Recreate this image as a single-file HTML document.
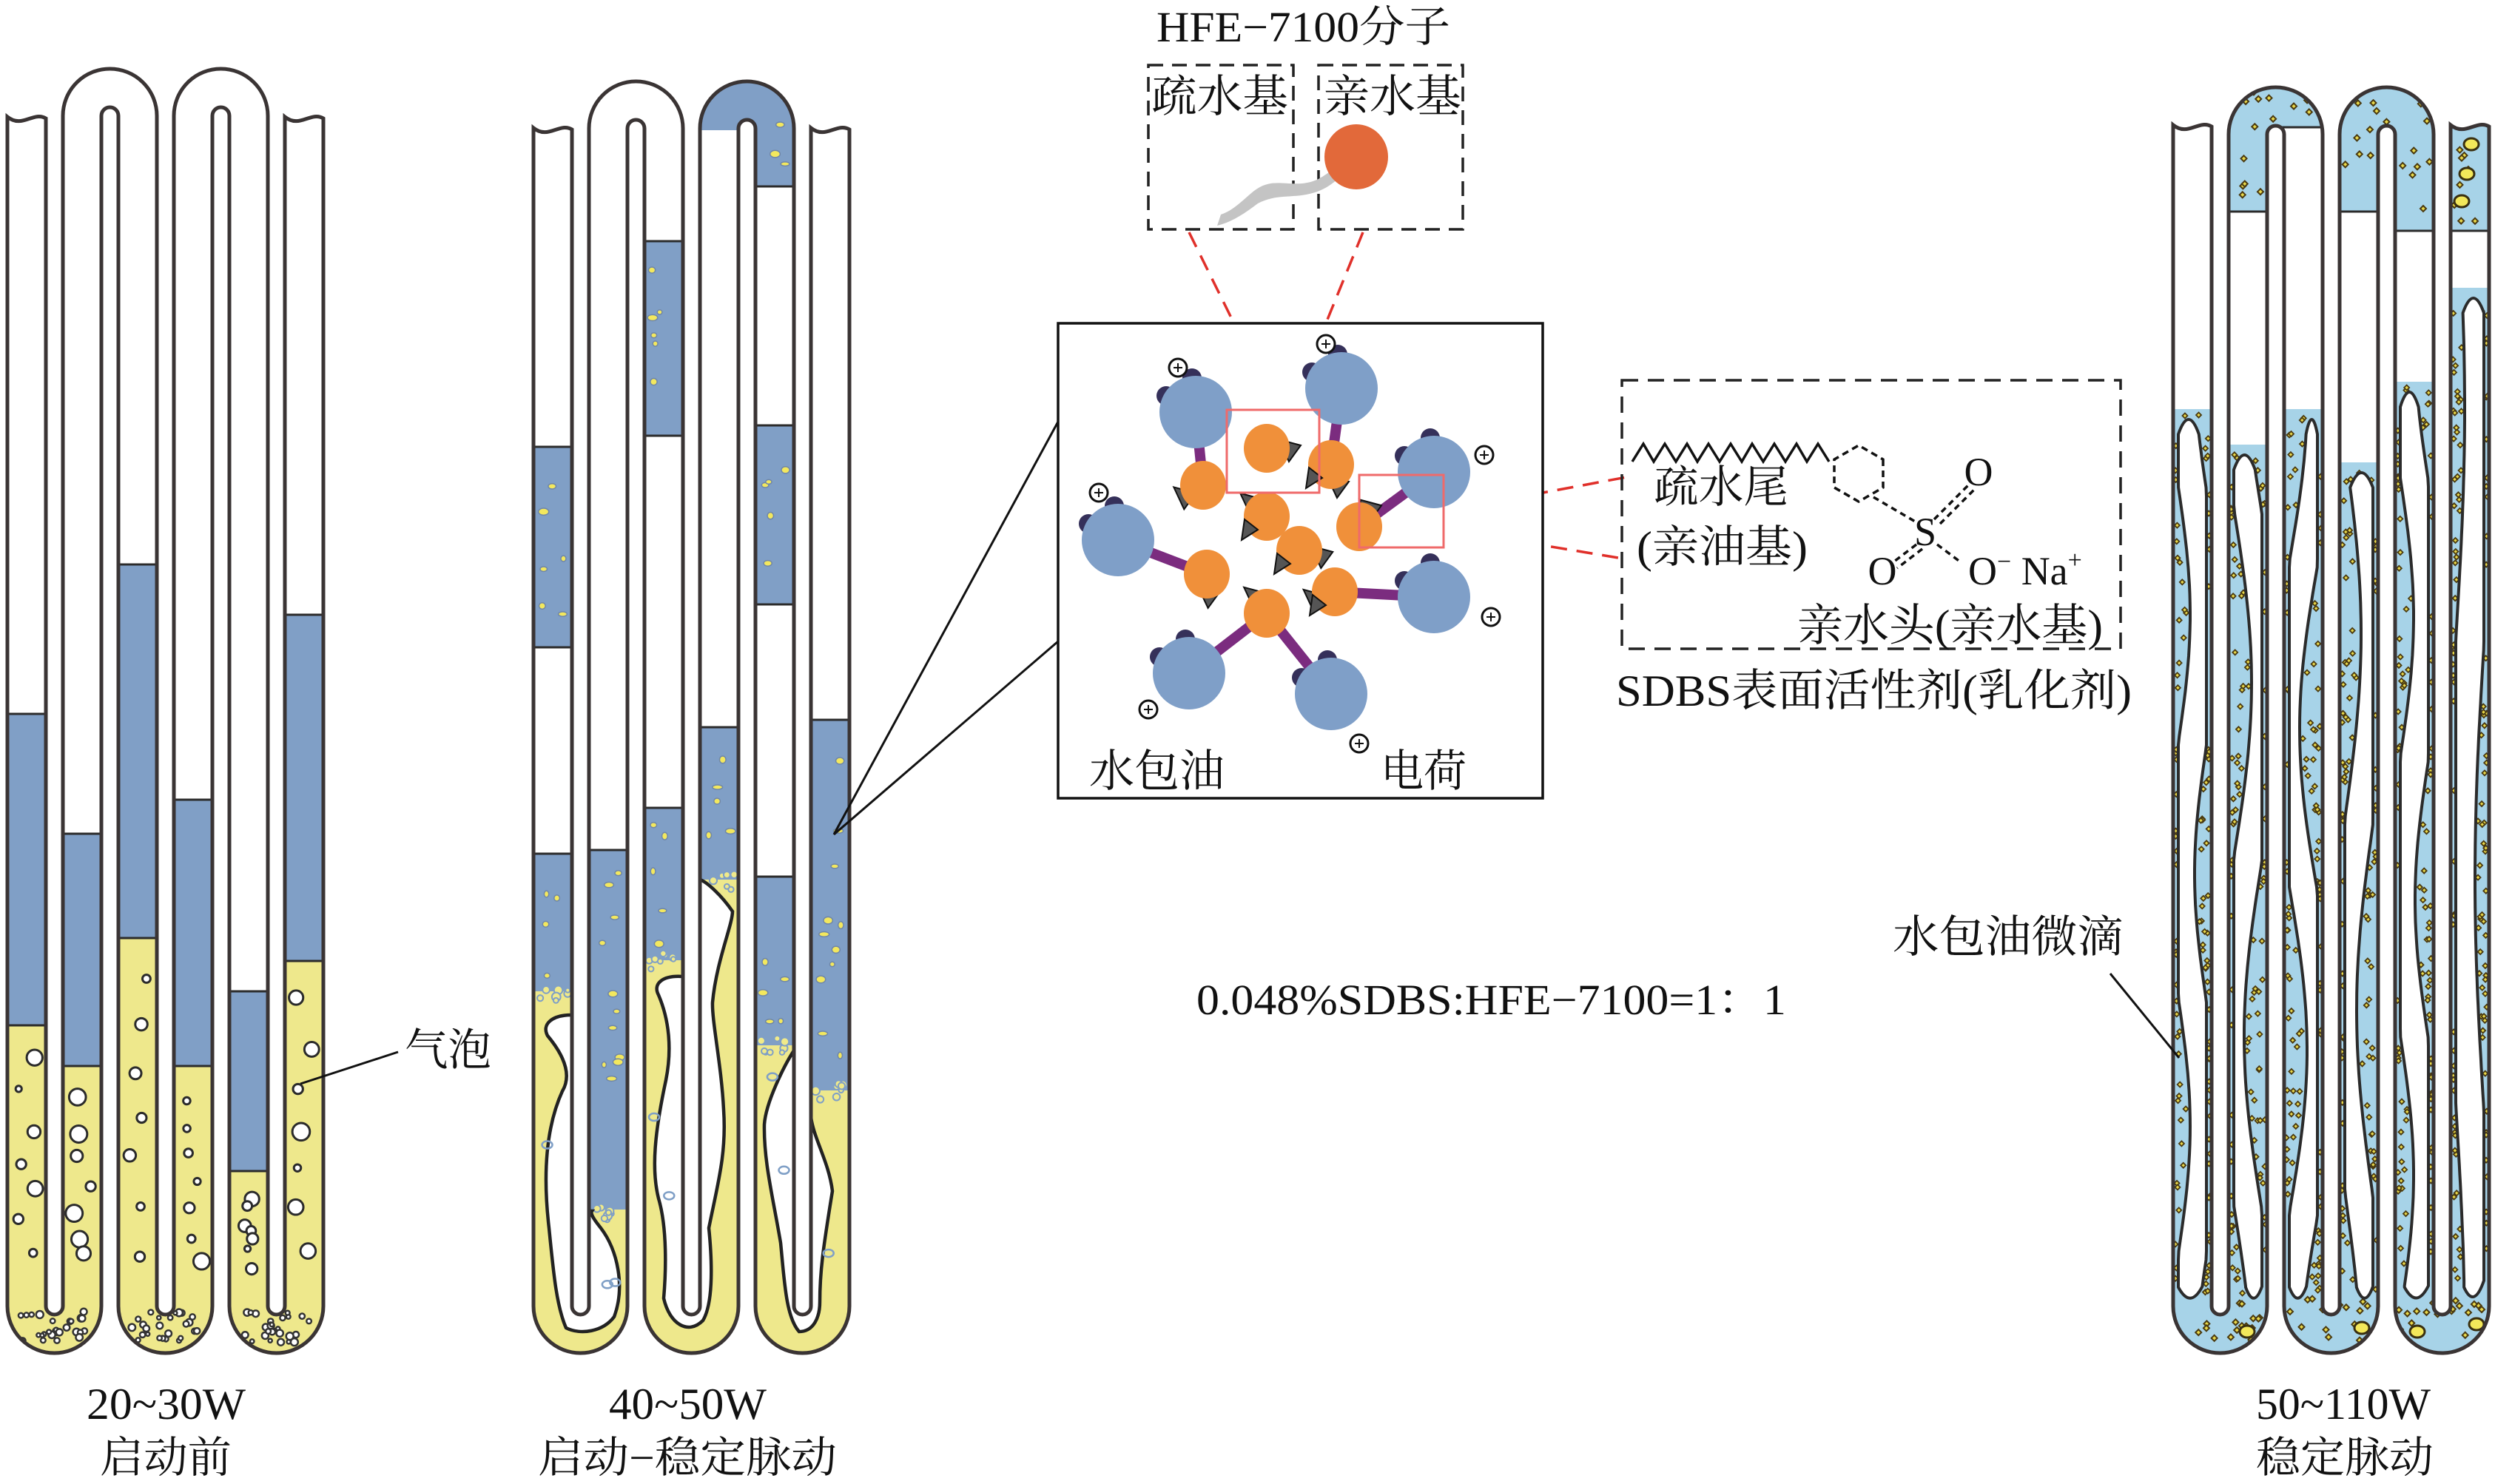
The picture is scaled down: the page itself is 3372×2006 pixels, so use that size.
<!DOCTYPE html>
<html><head><meta charset="utf-8">
<style>
html,body{margin:0;padding:0;background:#fff;overflow:hidden;width:3372px;height:2006px;}
svg{display:block;}
text{font-family:"Liberation Serif","Noto Serif CJK SC","Noto Sans CJK SC",serif;fill:#111;}
</style></head>
<body>
<svg id="root" xmlns="http://www.w3.org/2000/svg" width="3372" height="2006" viewBox="0 0 3372 2006">
<defs id="defs"></defs>
<rect width="3372" height="2006" fill="#fff"/>
<g id="panels"></g>

<line x1="1127" y1="1128" x2="1430" y2="570" stroke="#111" stroke-width="3"/>
<line x1="1127" y1="1128" x2="1430" y2="867" stroke="#111" stroke-width="3"/>

<text x="1563" y="56" font-size="58" textLength="397" lengthAdjust="spacingAndGlyphs">HFE−7100分子</text>
<rect x="1552" y="88" width="196" height="222" fill="none" stroke="#222" stroke-width="3.5" stroke-dasharray="20 12"/>
<rect x="1782" y="88" width="195" height="222" fill="none" stroke="#222" stroke-width="3.5" stroke-dasharray="20 12"/>
<text x="1556" y="151" font-size="60" textLength="185" lengthAdjust="spacingAndGlyphs">疏水基</text>
<text x="1789" y="151" font-size="60" textLength="186" lengthAdjust="spacingAndGlyphs">亲水基</text>
<path d="M1822 222 C1790 230 1790 245 1760 248 C1730 250 1715 240 1690 262 C1675 275 1665 285 1650 290 L1645 305 C1665 300 1680 290 1700 275 C1725 262 1745 268 1770 262 C1800 255 1805 240 1826 232 Z" fill="#c4c4c4"/>
<ellipse cx="1833" cy="212" rx="43" ry="44" fill="#e2693a"/>

<g stroke="#e0302a" stroke-width="3.5" stroke-dasharray="22 13" fill="none">
<line x1="1607" y1="314" x2="1727" y2="557"/>
<line x1="1842" y1="314" x2="1750" y2="540"/>
<line x1="1967" y1="688" x2="2198" y2="645"/>
<line x1="1958" y1="716" x2="2193" y2="755"/>
</g>
<path d="M1716 548 L1727 562 L1736 546" fill="none" stroke="#e0302a" stroke-width="3"/>

<rect x="1430" y="437" width="655" height="642" fill="#fff" stroke="#111" stroke-width="3.5"/>
<g id="mol"></g>
<rect x="1658" y="554" width="125" height="112" fill="none" stroke="#ef6a6a" stroke-width="3"/>
<rect x="1837" y="642" width="114" height="98" fill="none" stroke="#ef6a6a" stroke-width="3"/>
<text x="1472" y="1063" font-size="60" textLength="183" lengthAdjust="spacingAndGlyphs">水包油</text>
<text x="1866" y="1063" font-size="60" textLength="116" lengthAdjust="spacingAndGlyphs">电荷</text>

<rect x="2192" y="514" width="674" height="363" fill="none" stroke="#222" stroke-width="3.5" stroke-dasharray="22 13"/>
<polyline points="2206,624 2221,600 2235,624 2250,600 2265,624 2280,600 2294,624 2309,600 2324,624 2339,600 2354,624 2368,600 2383,624 2398,600 2413,624 2428,600 2442,624 2457,600 2472,624" fill="none" stroke="#111" stroke-width="3.5"/>
<polygon points="2545,621 2545,659 2512,678 2479,659 2479,621 2512,602" fill="none" stroke="#111" stroke-width="3.5" stroke-dasharray="9 6"/>
<g stroke="#111" stroke-width="3.5" stroke-dasharray="8 6" fill="none">
<line x1="2532" y1="672" x2="2590" y2="706"/>
<line x1="2614" y1="702" x2="2660" y2="656"/>
<line x1="2622" y1="708" x2="2668" y2="662"/>
<line x1="2590" y1="736" x2="2556" y2="762"/>
<line x1="2598" y1="742" x2="2564" y2="768"/>
<line x1="2618" y1="736" x2="2650" y2="760"/>
</g>
<text x="2235" y="679" font-size="60" textLength="182" lengthAdjust="spacingAndGlyphs">疏水尾</text>
<text x="2212" y="760" font-size="60" textLength="231" lengthAdjust="spacingAndGlyphs">(亲油基)</text>
<text x="2674" y="656" font-size="54" text-anchor="middle">O</text>
<text x="2602" y="737" font-size="54" text-anchor="middle">S</text>
<text x="2544" y="790" font-size="54" text-anchor="middle">O</text>
<text x="2660" y="790" font-size="54">O<tspan font-size="34" dy="-20">−</tspan><tspan dy="20"> Na</tspan><tspan font-size="34" dy="-22">+</tspan></text>
<text x="2429" y="866" font-size="60" textLength="413" lengthAdjust="spacingAndGlyphs">亲水头(亲水基)</text>
<text x="2184" y="954" font-size="60" textLength="697" lengthAdjust="spacingAndGlyphs">SDBS表面活性剂(乳化剂)</text>

<text x="1617" y="1371" font-size="58" textLength="797" lengthAdjust="spacingAndGlyphs">0.048%SDBS:HFE−7100=1：1</text>

<line x1="406" y1="1465" x2="538" y2="1422" stroke="#111" stroke-width="3"/>
<text x="547" y="1440" font-size="60" textLength="117" lengthAdjust="spacingAndGlyphs">气泡</text>
<line x1="2852" y1="1316" x2="2945" y2="1430" stroke="#111" stroke-width="3"/>
<text x="2558" y="1287" font-size="60" textLength="312" lengthAdjust="spacingAndGlyphs">水包油微滴</text>

<text x="117" y="1918" font-size="60" textLength="215" lengthAdjust="spacingAndGlyphs">20~30W</text>
<text x="135" y="1990" font-size="58" textLength="178" lengthAdjust="spacingAndGlyphs">启动前</text>
<text x="823" y="1918" font-size="60" textLength="213" lengthAdjust="spacingAndGlyphs">40~50W</text>
<text x="727" y="1990" font-size="58" textLength="404" lengthAdjust="spacingAndGlyphs">启动−稳定脉动</text>
<text x="3049" y="1918" font-size="60" textLength="236" lengthAdjust="spacingAndGlyphs">50~110W</text>
<text x="3049" y="1990" font-size="58" textLength="240" lengthAdjust="spacingAndGlyphs">稳定脉动</text>
</svg>

<script>
(function(){
const NS='http://www.w3.org/2000/svg';
const defs=document.getElementById('defs');
const panels=document.getElementById('panels');
function el(p,tag,a){const e=document.createElementNS(NS,tag);for(const k in a)e.setAttribute(k,a[k]);p.appendChild(e);return e;}
let seed=12345;function rnd(){seed=(seed*16807)%2147483647;return seed/2147483647;}
const B=1829;
function chan(x0,t,tu){const R=63.5,r=11.5,cT=tu+R,cB=B-R;
return `M${x0} ${t} L${x0} ${cB} A${R} ${R} 0 0 0 ${x0+127} ${cB} L${x0+127} ${cT} A${r} ${r} 0 0 1 ${x0+150} ${cT} L${x0+150} ${cB} A${R} ${R} 0 0 0 ${x0+277} ${cB} L${x0+277} ${cT} A${r} ${r} 0 0 1 ${x0+300} ${cT} L${x0+300} ${cB} A${R} ${R} 0 0 0 ${x0+427} ${cB} L${x0+427} ${t} C${x0+410} ${t-10} ${x0+395} ${t+14} ${x0+375} ${t-2} L${x0+375} ${cB} A${r} ${r} 0 0 1 ${x0+352} ${cB} L${x0+352} ${cT} A${R} ${R} 0 0 0 ${x0+225} ${cT} L${x0+225} ${cB} A${r} ${r} 0 0 1 ${x0+202} ${cB} L${x0+202} ${cT} A${R} ${R} 0 0 0 ${x0+75} ${cT} L${x0+75} ${cB} A${r} ${r} 0 0 1 ${x0+52} ${cB} L${x0+52} ${t} C${x0+35} ${t-10} ${x0+20} ${t+14} ${x0} ${t-2} Z`;}
function panel(id,x0,t,tu,fill){const d=chan(x0,t,tu);const cp=el(defs,'clipPath',{id});el(cp,'path',{d});
 const g=el(panels,'g',{'clip-path':`url(#${id})`});el(g,'rect',{x:x0-10,y:0,width:450,height:1900,fill:'#fff'});
 fill(g,i=>x0+75*i);el(panels,'path',{d,fill:'none',stroke:'#3a3434','stroke-width':5});}
const BLUE='#809fc6',YEL='#eee88c',LB='#a7d3e8';
function hline(g,x,y){el(g,'line',{x1:x-3,y1:y,x2:x+55,y2:y,stroke:'#2b2b2b','stroke-width':3});}

panel('cpL',10,160,93,(g,L)=>{
 const lv=[[965,1386],[1127,1441],[763,1268],[1081,1441],[1340,1583],[831,1299]];
 lv.forEach((v,i)=>{el(g,'rect',{x:L(i)-3,y:v[0],width:58,height:v[1]-v[0],fill:BLUE});
  el(g,'rect',{x:L(i)-3,y:v[1],width:58,height:900,fill:YEL});hline(g,L(i),v[0]);hline(g,L(i),v[1]);});
 [0,2,4].forEach(p=>el(g,'rect',{x:L(p),y:1740,width:127,height:100,fill:YEL}));
 lv.forEach((v,i)=>{const n=7;for(let k=0;k<n;k++){const y=v[1]+30+(1720-v[1]-30)*(k+0.5)/n+(rnd()-0.5)*20;
  const r=4+rnd()*8;el(g,'circle',{cx:L(i)+14+rnd()*24,cy:y,r,fill:'#fff',stroke:'#2b2b2b','stroke-width':3});}});
 [0,2,4].forEach(p=>{for(let k=0;k<26;k++){const x=L(p)+18+rnd()*92,y=1772+rnd()*45;
  el(g,'circle',{cx:x,cy:y,r:2.5+rnd()*2.5,fill:'#fff',stroke:'#333','stroke-width':2.5});}});
});

panel('cpM',721,175,110,(g,L)=>{
 const blues=[[0,604,875],[0,1154,1340],[1,1149,1635],[2,326,589],[2,1092,1298],[3,983,1189],[4,575,817],[4,1185,1413],[5,973,1474]];
 const ys=[1340,1635,1298,1189,1413,1474];
 blues.forEach(b=>{el(g,'rect',{x:L(b[0])-3,y:b[1],width:58,height:b[2]-b[1],fill:BLUE});hline(g,L(b[0]),b[1]);if(b[2]!=ys[b[0]])hline(g,L(b[0]),b[2]);});
 el(g,'rect',{x:L(3)-3,y:90,width:134,height:86,fill:BLUE});
 el(g,'rect',{x:L(4)-3,y:170,width:58,height:82,fill:BLUE});hline(g,L(4),252);
 ys.forEach((y,i)=>el(g,'rect',{x:L(i)-3,y:y,width:58,height:900,fill:YEL}));
 [0,2,4].forEach(p=>el(g,'rect',{x:L(p),y:1740,width:127,height:100,fill:YEL}));
 blues.concat([[4,120,250]]).forEach(b=>{const n=Math.round((b[2]-b[1])/45);for(let k=0;k<n;k++){
  el(g,'ellipse',{cx:L(b[0])+10+rnd()*32,cy:b[1]+15+rnd()*(b[2]-b[1]-30),rx:3+rnd()*4,ry:2.5+rnd()*2.5,fill:'#f3e85e',stroke:'#6f86a8','stroke-width':1.5});}});
 ys.forEach((y,i)=>{for(let k=0;k<8;k++){el(g,'circle',{cx:L(i)+6+rnd()*42,cy:y-10+rnd()*24,r:3+rnd()*3,fill:'#f0ea8a',stroke:'#7f9fc6','stroke-width':2});}});
 const blobs=[
 'M773 1372 C745 1372 732 1385 740 1400 C765 1430 772 1455 760 1475 C735 1530 735 1600 742 1660 C748 1720 752 1765 765 1795 C785 1805 815 1800 830 1780 C845 1740 835 1690 812 1660 C800 1645 798 1640 800 1637 L796 1637 L796 1372 Z',
 'M923 1320 C895 1318 882 1330 890 1345 C905 1380 908 1420 900 1460 C885 1530 880 1580 890 1620 C902 1660 900 1720 897 1755 C905 1790 930 1805 950 1785 C965 1760 962 1700 958 1660 C970 1600 982 1560 978 1500 C975 1440 962 1380 963 1355 C968 1300 990 1250 990 1232 C975 1210 955 1192 946 1189 L923 1189 Z',
 'M1073 1420 C1060 1440 1035 1490 1033 1520 C1032 1570 1045 1620 1055 1680 C1060 1730 1062 1780 1080 1800 C1100 1800 1108 1780 1108 1760 C1108 1720 1112 1690 1125 1610 C1120 1570 1100 1540 1096 1510 L1096 1420 Z'];
 blobs.forEach(d=>el(g,'path',{d,fill:'#fff',stroke:'#222','stroke-width':4.5}));
 for(let k=0;k<8;k++){const i=Math.floor(rnd()*6);el(g,'ellipse',{cx:L(i)+12+rnd()*28,cy:ys[i]+40+rnd()*(1700-ys[i]),rx:7,ry:5,fill:'none',stroke:'#7f9fc6','stroke-width':2.5});}
});

panel('cpR',2937,171,118,(g,L)=>{
 el(g,'rect',{x:L(1)-3,y:100,width:134,height:72,fill:LB});
 el(g,'rect',{x:L(1)-3,y:170,width:58,height:116,fill:LB});hline(g,L(1),286);hline(g,L(2),172);
 el(g,'rect',{x:L(3)-3,y:100,width:134,height:72,fill:LB});
 el(g,'rect',{x:L(3)-3,y:170,width:58,height:116,fill:LB});hline(g,L(3),286);
 el(g,'rect',{x:L(4)-3,y:170,width:58,height:142,fill:LB});hline(g,L(4),312);
 el(g,'rect',{x:L(5)-3,y:160,width:58,height:152,fill:LB});hline(g,L(5),312);
 const st=[553,601,553,625,516,389];
 st.forEach((s,i)=>el(g,'rect',{x:L(i)-3,y:s,width:58,height:1400,fill:LB}));
 [0,2,4].forEach(p=>el(g,'rect',{x:L(p),y:1740,width:127,height:100,fill:LB}));
 function dots(x,y,w,h,n){for(let k=0;k<n;k++){const cx=x+rnd()*w,cy=y+rnd()*h,s=4;
  el(g,'path',{d:`M${cx} ${cy-s} L${cx+s} ${cy} L${cx} ${cy+s} L${cx-s} ${cy} Z`,fill:'#e8d84a',stroke:'#4a3a10','stroke-width':2});}}
 function big(cx,cy){el(g,'ellipse',{cx,cy,rx:10,ry:8,fill:'#f3e85a',stroke:'#3a3010','stroke-width':3});}
 dots(L(1),105,180,60,14);dots(L(1)+5,170,42,110,6);dots(L(3),105,180,60,12);dots(L(3)+5,170,42,110,5);dots(L(4)+5,170,42,135,6);dots(L(5)+5,175,42,130,8);
 big(L(1)+16,104);big(L(3)+40,110);big(L(4)+30,120);big(L(5)+28,195);big(L(5)+22,235);big(L(5)+15,272);
 const amp=[16,24,24,22,18,12],ph=[0.3,1.7,4.0,2.5,0.9,5.1],per=[110,150,140,160,120,200];
 const cores=[];
 st.forEach((s,i)=>{const x=L(i),pl=[],pr=[];const y0=s+34,y1=1740;
  for(let y=y0;y<=y1;y+=12){let a=7+amp[i]*Math.max(0,Math.sin(y/per[i]+ph[i]));let b=7+amp[i]*Math.max(0,Math.sin(y/per[i]+ph[i]+3.1));
   if(52-a-b<14){const sc=(52-14)/(a+b);a*=sc;b*=sc;}pl.push([x+a,y]);pr.push([x+52-b,y]);}
  cores.push({pl:pl.slice(),pr:pr.slice(),y0});
  let d=`M${pl[0][0].toFixed(1)} ${y0} Q${((pl[0][0]+pr[0][0])/2).toFixed(1)} ${y0-40} ${pr[0][0].toFixed(1)} ${y0} `;
  pr.forEach(p=>d+=`L${p[0].toFixed(1)} ${p[1]} `);
  const lp=pl[pl.length-1],lr=pr[pr.length-1];
  d+=`Q${((lp[0]+lr[0])/2).toFixed(1)} ${y1+30} ${lp[0].toFixed(1)} ${y1} `;
  pl.slice().reverse().forEach(p=>d+=`L${p[0].toFixed(1)} ${p[1]} `);d+='Z';
  cores[i].d=d;});
 st.forEach((s,i)=>{const c=cores[i];for(let k=0;k<Math.round((1740-s)/11);k++){const y=s+8+rnd()*(1740-s);
   const idx=Math.max(0,Math.min(c.pl.length-1,Math.round((y-c.y0)/12)));
   let x; if(y<c.y0){x=L(i)+6+rnd()*40;} else {const lw=c.pl[idx][0]-L(i),rw=L(i)+52-c.pr[idx][0];
    x= (rnd()*(lw+rw)<lw)? L(i)+3+rnd()*Math.max(2,lw-6) : c.pr[idx][0]+3+rnd()*Math.max(2,rw-6);}
   const sz=3.5;el(g,'path',{d:`M${x} ${y-sz} L${x+sz} ${y} L${x} ${y+sz} L${x-sz} ${y} Z`,fill:'#e8d84a',stroke:'#4a3a10','stroke-width':1.8});}});
 [0,2,4].forEach(p=>dots(L(p)+5,1755,117,60,18));
 cores.forEach(c=>el(g,'path',{d:c.d,fill:'#fff',stroke:'#2b2b2b','stroke-width':4,'stroke-linejoin':'round'}));
 big(L(0)+100,1800);big(L(2)+105,1795);big(L(4)+30,1800);big(L(4)+110,1790);
});

const mol=document.getElementById('mol');
const blues=[[1616,557],[1813,525],[1938,638],[1511,730],[1938,807],[1607,910],[1799,938]];
const oranges=[[1712,606],[1799,628],[1626,656],[1712,698],[1837,712],[1756,744],[1631,776],[1804,800],[1712,829]];
const bars=[[1616,557,1626,656],[1813,525,1799,628],[1938,638,1837,712],[1511,730,1631,776],[1938,807,1804,800],[1607,910,1712,829],[1799,938,1712,829]];
bars.forEach(b=>el(mol,'line',{x1:b[0],y1:b[1],x2:b[2],y2:b[3],stroke:'#7b2c7f','stroke-width':14}));
blues.forEach(b=>{el(mol,'circle',{cx:b[0]-40,cy:b[1]-22,r:13,fill:'#35305a'});el(mol,'circle',{cx:b[0]-5,cy:b[1]-46,r:13,fill:'#35305a'});});
blues.forEach(b=>el(mol,'circle',{cx:b[0],cy:b[1],r:49,fill:'#7f9fc8'}));
oranges.forEach((o,k)=>{const ang=k*1.3;const tx=o[0]+Math.cos(ang)*30,ty=o[1]+Math.sin(ang)*28;
 el(mol,'path',{d:`M${tx-14} ${ty-12} L${tx+16} ${ty-4} L${tx} ${ty+18} Z`,fill:'#555',stroke:'#111','stroke-width':2});});
oranges.forEach(o=>el(mol,'ellipse',{cx:o[0],cy:o[1],rx:31,ry:33,fill:'#f0903a'}));
oranges.forEach((o,k)=>{if(k%2){const tx=o[0]-30,ty=o[1]+18;el(mol,'path',{d:`M${tx} ${ty-14} L${tx+18} ${ty} L${tx-4} ${ty+14} Z`,fill:'#555',stroke:'#111','stroke-width':2});}});
[[1592,497],[1792,465],[2006,615],[1485,666],[2015,834],[1552,959],[1837,1005]].forEach(c=>{
 el(mol,'circle',{cx:c[0],cy:c[1],r:12,fill:'#fff',stroke:'#111','stroke-width':3});
 el(mol,'path',{d:`M${c[0]-6} ${c[1]} H${c[0]+6} M${c[0]} ${c[1]-6} V${c[1]+6}`,stroke:'#111','stroke-width':2});});
})();
</script>
</body></html>
